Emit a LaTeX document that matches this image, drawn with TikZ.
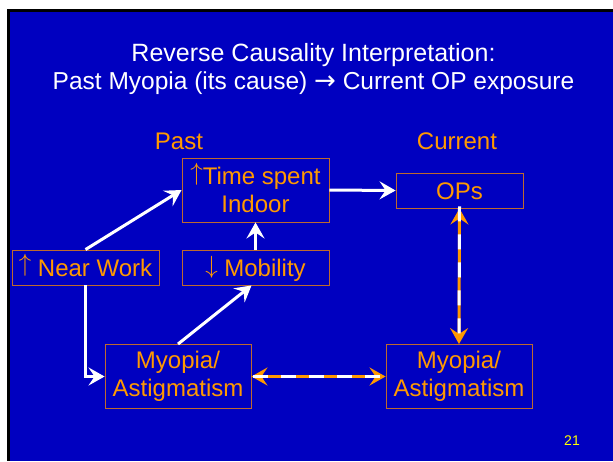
\documentclass[tikz,border=0pt]{standalone}
\usepackage{fontspec}
\setmainfont{Liberation Sans}
\newfontfamily\symfont{DejaVu Sans}
\usetikzlibrary{arrows.meta}
\definecolor{bgblue}{RGB}{0,0,192}
\definecolor{txtorange}{RGB}{255,153,0}
\definecolor{boxedge}{RGB}{190,105,45}
\definecolor{pageyellow}{RGB}{255,255,0}
\newcommand{\upar}{\smash{\raisebox{4.3pt}{$\uparrow$}}}
\newcommand{\dnar}{\smash{\raisebox{2.5pt}{$\downarrow$}}}
\newcommand{\boxstrut}{\rule[-5pt]{0pt}{27pt}}
\tikzset{
  box/.style={draw=boxedge, line width=0.9pt, text=txtorange, align=center,
    inner sep=0pt, font=\fontsize{24}{28}\selectfont},
  lbl/.style={text=txtorange, font=\fontsize{24}{28}\selectfont, anchor=base},
  tipw/.tip={Stealth[length=16pt,width=18pt,inset=6pt]},
  warrow/.style={draw=white, line width=3pt, -tipw},
  obase/.style={draw=txtorange, line width=3pt, tipw-tipw},
  wdash/.style={draw=white, line width=3pt, dash pattern=on 15pt off 13pt},
}
\begin{document}
\begin{tikzpicture}[x=1pt,y=-1pt]
\useasboundingbox (0,0) rectangle (613,461);
\fill[white] (0,0) rectangle (613,461);
\fill[black] (7,9) rectangle (613,461);
\fill[bgblue] (10,12) rectangle (613,461);

% title
\node[text=white, font=\fontsize{25}{30}\selectfont, anchor=base] (t1) at (313.5,61) {Reverse Causality Interpretation:};
\node[text=white, font=\fontsize{24.5}{30}\selectfont, anchor=base] (t2) at (313.5,89) {Past Myopia (its cause) {\symfont\fontsize{26}{30}\selectfont →} Current OP exposure};

% column labels
\node[lbl] (past) at (179,149) {Past};
\node[lbl] (current) at (457,149) {Current};

% boxes
\node[box, minimum width=147pt, minimum height=64pt] (time) at (255.5,190) {\upar Time spent\\Indoor};
\node[box, minimum width=147pt, minimum height=35pt] (near) at (85.5,267.5) {\boxstrut\upar\ Near Work};
\node[box, minimum width=147pt, minimum height=35pt] (mob) at (255.5,267.5) {\boxstrut\dnar\ Mobility};
\node[box, minimum width=127pt, minimum height=35pt] (ops) at (459.5,190.5) {\boxstrut OPs};
\node[box, minimum width=146pt, minimum height=64pt] (myoL) at (178,376.5) {Myopia/\\Astigmatism};
\node[box, minimum width=146pt, minimum height=64pt] (myoR) at (459,376.5) {Myopia/\\Astigmatism};

% page number
\node[text=pageyellow, font=\fontsize{14}{16}\selectfont, anchor=base] (pg) at (572,445) {21};

% solid arrows
\draw[warrow] (near.north) -- (time.west);
\draw[warrow] (near.south) |- (myoL.west);
\draw[warrow] (myoL.north) -- ([xshift=-4pt]mob.south);
\draw[warrow] (mob.north) -- (time.south);
\draw[warrow] (time.east) -- (ops.west);

% dashed double arrows
\draw[obase] (ops.south) -- (myoR.north);
\draw[wdash] ([yshift=2pt]ops.south) -- ([yshift=-2pt]myoR.north);
\draw[obase] (myoL.east) -- (myoR.west);
\draw[wdash] ([xshift=2pt]myoL.east) -- ([xshift=-2pt]myoR.west);
\end{tikzpicture}
\end{document}
